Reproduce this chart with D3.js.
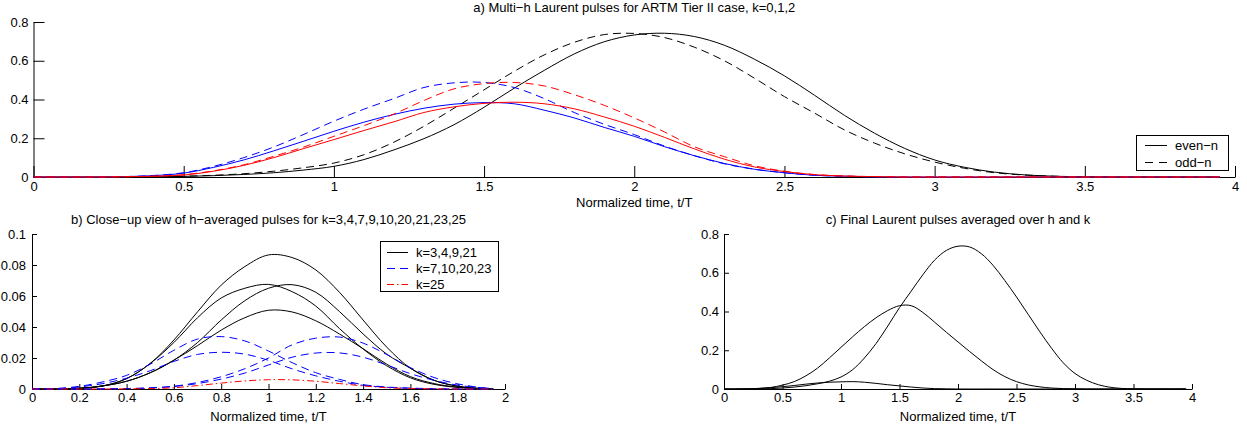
<!DOCTYPE html>
<html>
<head>
<meta charset="utf-8">
<script src="https://cdn.jsdelivr.net/npm/d3@7"></script>
<style>
body { margin: 0; background: #fff; }
svg text { fill: #000; }
</style>
</head>
<body>
<script>
'use strict';

// a) k=0,1,2 pulses, sampled every 0.1 T
var tA = [0,0.1,0.2,0.3,0.4,0.5,0.6,0.7,0.8,0.9,1,1.1,1.2,1.3,1.4,1.5,1.6,1.7,1.8,1.9,2,2.1,2.2,2.3,2.4,2.5,2.6,2.7,2.8,2.9,3,3.1,3.2,3.3,3.4,3.5,3.6,3.7,3.8,3.9,3.95];
var evenK0 = [0,0,0,0,0.001,0.003,0.007,0.013,0.022,0.036, 0.055,0.09,0.14,0.198,0.27,0.36,0.458,0.55,0.635,0.698, 0.733,0.742,0.725,0.68,0.608,0.522,0.422,0.318,0.226,0.148, 0.088,0.05,0.025,0.011,0.004,0.001,0,0,0,0, 0];
var oddK0  = [0,0,0,0,0.001,0.004,0.009,0.017,0.03,0.048, 0.072,0.115,0.18,0.262,0.355,0.45,0.545,0.63,0.695,0.735, 0.741,0.72,0.67,0.6,0.51,0.415,0.33,0.243,0.175,0.12, 0.077,0.045,0.022,0.01,0.004,0.001,0,0,0,0, 0];
var evenK1 = [0,0,0,0.002,0.007,0.02,0.05,0.088,0.135,0.185, 0.236,0.283,0.323,0.355,0.376,0.384,0.378,0.345,0.305,0.256, 0.21,0.157,0.11,0.07,0.04,0.022,0.009,0.004,0.001,0, 0,0,0,0,0,0,0,0,0,0, 0];
var oddK1  = [0,0,0,0.002,0.008,0.022,0.055,0.1,0.155,0.22, 0.288,0.35,0.405,0.462,0.486,0.488,0.462,0.405,0.333,0.272, 0.219,0.16,0.11,0.068,0.04,0.022,0.009,0.004,0.001,0, 0,0,0,0,0,0,0,0,0,0, 0];
var evenK2 = [0,0,0,0.001,0.004,0.01,0.03,0.06,0.1,0.147, 0.193,0.24,0.285,0.333,0.362,0.38,0.386,0.378,0.352,0.31, 0.262,0.205,0.145,0.092,0.052,0.028,0.012,0.005,0.002,0, 0,0,0,0,0,0,0,0,0,0, 0];
var oddK2  = [0,0,0,0.001,0.004,0.012,0.032,0.063,0.107,0.155, 0.21,0.265,0.325,0.395,0.455,0.482,0.488,0.47,0.425,0.37, 0.305,0.233,0.156,0.105,0.058,0.03,0.013,0.005,0.002,0, 0,0,0,0,0,0,0,0,0,0, 0];

// b) h-averaged pulses for the higher k
var tB = [0,0.1,0.2,0.3,0.4,0.5,0.6,0.7,0.8,0.9,1,1.1,1.2,1.3,1.4,1.5,1.6,1.7,1.8,1.9,1.95];
var k3  = [0,0,0.0005,0.002,0.0067,0.0165,0.0316,0.0498,0.067,0.079, 0.0865,0.0848,0.0768,0.0624,0.0445,0.027,0.0134,0.0056,0.0018,0.0003, 0];
var k4  = [0,0,0.0005,0.002,0.0067,0.0165,0.030,0.046,0.0587,0.065, 0.0675,0.0628,0.0535,0.039,0.0258,0.015,0.0072,0.003,0.001,0.0002, 0];
var k9  = [0,0,0.0004,0.002,0.005,0.0105,0.0186,0.03,0.0445,0.057, 0.065,0.0673,0.0624,0.05,0.0355,0.0225,0.0134,0.0056,0.0018,0.0003, 0];
var k21 = [0,0,0.0004,0.002,0.005,0.0105,0.0186,0.028,0.038,0.046, 0.0508,0.0497,0.044,0.0355,0.026,0.016,0.008,0.0035,0.0012,0.0002, 0];
var k7  = [0,0.0003,0.0017,0.0046,0.0088,0.016,0.025,0.0322,0.0338,0.031, 0.0245,0.017,0.0105,0.0062,0.0028,0.0013,0.0006,0.0002,0,0, 0];
var k10 = [0,0.0002,0.0013,0.0035,0.007,0.0118,0.0178,0.0223,0.0237,0.0225, 0.0185,0.013,0.0085,0.005,0.0024,0.0011,0.0004,0.0001,0,0, 0];
var k20 = [0,0,0,0.0001,0.0003,0.0008,0.0018,0.0042,0.0079,0.0131, 0.020,0.0285,0.0328,0.0335,0.0296,0.0222,0.0138,0.0074,0.0033,0.0009, 0.0003];
var k23 = [0,0,0,0.0001,0.0002,0.0006,0.0016,0.0035,0.0064,0.0103, 0.0155,0.0205,0.0232,0.0233,0.0205,0.0155,0.0099,0.0056,0.0025,0.0008, 0.0003];
var k25 = [0,0,0,0,0.0001,0.0003,0.0008,0.0022,0.0038,0.0052, 0.006,0.0059,0.005,0.0035,0.002,0.0008,0.0003,0.0001,0,0, 0];

// c) final pulses averaged over h and k
var tC = tA;
var finalP0 = [0,0,0,0.001,0.002,0.005,0.01,0.017,0.027,0.04, 0.062,0.1,0.16,0.235,0.325,0.42,0.505,0.59,0.665,0.715, 0.737,0.733,0.698,0.638,0.56,0.475,0.385,0.295,0.21,0.135, 0.08,0.045,0.022,0.009,0.003,0.001,0,0,0,0, 0];
var finalP1 = [0,0,0.001,0.003,0.008,0.02,0.038,0.068,0.108,0.16, 0.215,0.27,0.322,0.368,0.405,0.43,0.43,0.395,0.345,0.293, 0.243,0.193,0.145,0.1,0.064,0.038,0.021,0.011,0.005,0.002, 0.001,0,0,0,0,0,0,0,0,0, 0];
var finalP2 = [0,0,0.001,0.003,0.007,0.012,0.018,0.025,0.031,0.035, 0.037,0.038,0.035,0.029,0.022,0.016,0.01,0.005,0.002,0.001, 0,0,0,0,0,0,0,0,0,0, 0,0,0,0,0,0,0,0,0,0, 0];

// ticks
var ticksX4 = [0,0.5,1,1.5,2,2.5,3,3.5,4];
var labelsX4 = ['0','0.5','1','1.5','2','2.5','3','3.5','4'];
var ticksY8 = [0,0.2,0.4,0.6,0.8];
var labelsY8 = ['0','0.2','0.4','0.6','0.8'];
var ticksX2 = [0,0.2,0.4,0.6,0.8,1,1.2,1.4,1.6,1.8,2];
var labelsX2 = ['0','0.2','0.4','0.6','0.8','1','1.2','1.4','1.6','1.8','2'];
var ticksY1 = [0,0.02,0.04,0.06,0.08,0.1];
var labelsY1 = ['0','0.02','0.04','0.06','0.08','0.1'];

var myChart = {};

myChart.width = 1247;
myChart.height = 434;
myChart.font = '"Liberation Sans", Arial, Helvetica, sans-serif';
myChart.dash = '8,5';
myChart.dashDot = '7,3,1.5,3';

myChart.appendSVG = function(div, width, height){
    var svg = d3.select(div).append('svg')
                .attr('width', width)
                .attr('height', height)
                .style('display', 'block')
                .attr('font-family', myChart.font)
                .attr('font-size', 13);
    return svg;
}

myChart.createPanel = function(svg, opt){
    var x = d3.scaleLinear().domain(opt.xDomain).range([opt.left, opt.right]);
    var y = d3.scaleLinear().domain(opt.yDomain).range([opt.bottom, opt.top]);
    var g = svg.append('g');

    g.append('g')
        .attr('transform', 'translate(0,' + opt.bottom + ')')
        .call(d3.axisBottom(x)
            .tickValues(opt.xTicks)
            .tickFormat(function(d, i){ return opt.xLabels[i]; })
            .tickSizeInner(-opt.tick)
            .tickSizeOuter(0)
            .tickPadding(opt.padX))
        .attr('font-family', myChart.font)
        .attr('font-size', 13);

    g.append('g')
        .attr('transform', 'translate(' + opt.left + ',0)')
        .call(d3.axisLeft(y)
            .tickValues(opt.yTicks)
            .tickFormat(function(d, i){ return opt.yLabels[i]; })
            .tickSizeInner(-opt.tick)
            .tickSizeOuter(0)
            .tickPadding(opt.padY))
        .attr('font-family', myChart.font)
        .attr('font-size', 13);

    g.selectAll('.domain, .tick line').attr('stroke', '#000');
    g.selectAll('.tick text').attr('fill', '#000');

    g.append('text')
        .attr('x', (opt.left + opt.right) / 2)
        .attr('y', opt.titleY)
        .attr('text-anchor', 'middle')
        .text(opt.title);

    g.append('text')
        .attr('x', (opt.left + opt.right) / 2)
        .attr('y', opt.labelY)
        .attr('text-anchor', 'middle')
        .text('Normalized time, t/T');

    return {x: x, y: y, g: g};
}

myChart.drawLine = function(panel, times, values, color, dash){
    var line = d3.line()
                .x(function(d, i){ return panel.x(times[i]); })
                .y(function(d){ return panel.y(d); })
                .curve(d3.curveCatmullRom.alpha(0.5));

    panel.g.append('path')
        .datum(values)
        .attr('d', line)
        .attr('fill', 'none')
        .attr('stroke', color)
        .attr('stroke-width', 1)
        .attr('stroke-dasharray', dash || null);
}

myChart.drawLegend = function(svg, box, items){
    var g = svg.append('g');
    g.append('rect')
        .attr('x', box.x + 0.5)
        .attr('y', box.y + 0.5)
        .attr('width', box.w)
        .attr('height', box.h)
        .attr('fill', '#fff')
        .attr('stroke', '#000');

    var rows = g.selectAll('.legend-row')
                .data(items)
                .enter()
                    .append('g')
                    .attr('transform', function(d, i){
                        return 'translate(0,' + (box.y + box.first + i * box.step) + ')';
                    });

    rows.append('line')
        .attr('x1', box.x + box.lineX)
        .attr('x2', box.x + box.lineX + box.lineW)
        .attr('y1', 0.5)
        .attr('y2', 0.5)
        .attr('stroke', function(d){ return d.color; })
        .attr('stroke-dasharray', function(d){ return d.dash || null; });

    rows.append('text')
        .attr('x', box.x + box.textX)
        .attr('y', 5)
        .text(function(d){ return d.label; });
}

myChart.run = function(){
    var svg = myChart.appendSVG('body', myChart.width, myChart.height);

    var a = myChart.createPanel(svg, {
        xDomain: [0, 4], yDomain: [0, 0.8],
        left: 33.5, right: 1235, top: 22, bottom: 177,
        xTicks: ticksX4, xLabels: labelsX4, yTicks: ticksY8, yLabels: labelsY8,
        tick: 11, padX: 5, padY: 5,
        title: 'a) Multi\u2212h Laurent pulses for ARTM Tier II case, k=0,1,2',
        titleY: 12, labelY: 207
    });
    myChart.drawLine(a, tA, evenK0, '#000');
    myChart.drawLine(a, tA, oddK0, '#000', myChart.dash);
    myChart.drawLine(a, tA, evenK1, '#0000ff');
    myChart.drawLine(a, tA, oddK1, '#0000ff', myChart.dash);
    myChart.drawLine(a, tA, evenK2, '#ff0000');
    myChart.drawLine(a, tA, oddK2, '#ff0000', myChart.dash);
    myChart.drawLegend(svg, {x: 1136, y: 135, w: 92, h: 35, first: 10, step: 17, lineX: 9, lineW: 22, textX: 39}, [
        {label: 'even\u2212n', color: '#000'},
        {label: 'odd\u2212n', color: '#000', dash: '8,6'}
    ]);

    var b = myChart.createPanel(svg, {
        xDomain: [0, 2], yDomain: [0, 0.1],
        left: 32, right: 505, top: 234, bottom: 389,
        xTicks: ticksX2, xLabels: labelsX2, yTicks: ticksY1, yLabels: labelsY1,
        tick: 5, padX: 4, padY: 6,
        title: 'b) Close\u2212up view of h\u2212averaged pulses for k=3,4,7,9,10,20,21,23,25',
        titleY: 224, labelY: 421
    });
    [k3, k4, k9, k21].forEach(function(v){ myChart.drawLine(b, tB, v, '#000'); });
    [k7, k10, k20, k23].forEach(function(v){ myChart.drawLine(b, tB, v, '#0000ff', myChart.dash); });
    myChart.drawLine(b, tB, k25, '#ff0000', myChart.dashDot);
    myChart.drawLegend(svg, {x: 380, y: 241, w: 118, h: 50, first: 11, step: 16, lineX: 7, lineW: 21, textX: 36}, [
        {label: 'k=3,4,9,21', color: '#000'},
        {label: 'k=7,10,20,23', color: '#0000ff', dash: '8,5'},
        {label: 'k=25', color: '#ff0000', dash: myChart.dashDot}
    ]);

    var c = myChart.createPanel(svg, {
        xDomain: [0, 4], yDomain: [0, 0.8],
        left: 724, right: 1192, top: 234, bottom: 389,
        xTicks: ticksX4, xLabels: labelsX4, yTicks: ticksY8, yLabels: labelsY8,
        tick: 5, padX: 4, padY: 5,
        title: 'c) Final Laurent pulses averaged over h and k',
        titleY: 224, labelY: 421
    });
    myChart.drawLine(c, tC, finalP0, '#000');
    myChart.drawLine(c, tC, finalP1, '#000');
    myChart.drawLine(c, tC, finalP2, '#000');
}

window.onload = myChart.run;
</script>
</body>
</html>
